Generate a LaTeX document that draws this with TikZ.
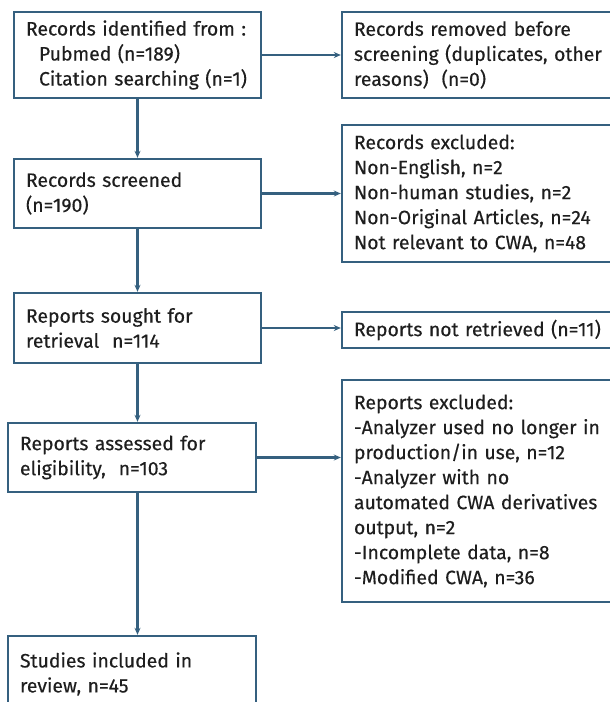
\documentclass[tikz,border=0pt]{standalone}
\usepackage{fontspec}
\setmainfont[FakeBold=0.3]{Fira Sans}
\usetikzlibrary{arrows.meta}
\definecolor{edge}{HTML}{35607F}
\definecolor{ink}{HTML}{1E1E1E}
\newcommand{\bxline}[1]{\mbox{#1}}
\begin{document}
\begin{tikzpicture}[x=1pt,y=-1pt,
  box/.style={draw=edge, line width=2.4pt, fill=white, text=ink, align=left,
    inner xsep=12pt, inner ysep=3pt, font=\fontsize{19.4}{25}\selectfont, anchor=center},
  conn/.style={draw=edge, line width=2.2pt, -{Stealth[length=7pt,width=6pt]}}]
\useasboundingbox (0,0) rectangle (610,702);
\clip (0,0) rectangle (610,702);
\fill[white] (0,0) rectangle (610,702);

\node[box, minimum width=247pt, minimum height=86pt, text width=223pt] (A) at (137.5,55)
  {\bxline{Records identified from :}\\\bxline{\hspace*{13pt}Pubmed (n=189)}\\\bxline{\hspace*{13pt}Citation searching (n=1)}};
\node[box, minimum width=272pt, minimum height=86pt, text width=248pt] (B) at (478,55)
  {\bxline{Records removed before}\\\bxline{screening (duplicates, other}\\\bxline{reasons)\ \ (n=0)}};
\node[box, minimum width=247pt, minimum height=69pt, text width=223pt] (C) at (137.5,193.5)
  {\bxline{Records screened}\\\bxline{(n=190)}};
\node[box, minimum width=272pt, minimum height=137pt, text width=248pt] (D) at (478,193.5)
  {\bxline{Records excluded:}\\\bxline{Non-English, n=2}\\\bxline{Non-human studies, n=2}\\\bxline{Non-Original Articles, n=24}\\\bxline{Not relevant to CWA, n=48}};
\node[box, minimum width=247pt, minimum height=70pt, text width=223pt] (E) at (137.5,328)
  {\bxline{Reports sought for}\\\bxline{retrieval\ \ n=114}};
\node[box, minimum width=272pt, minimum height=36pt, text width=248pt] (F) at (478,330)
  {\bxline{Reports not retrieved (n=11)}};
\node[box, minimum width=248pt, minimum height=69pt, text width=224pt] (G) at (132,457.5)
  {\bxline{Reports assessed for}\\\bxline{eligibility,\ \ n=103}};
\node[box, minimum width=272pt, minimum height=222pt, text width=248pt] (H) at (478,491)
  {\bxline{Reports excluded:}\\\bxline{-Analyzer used no longer in}\\\bxline{production/in use, n=12}\\\bxline{-Analyzer with no}\\\bxline{automated CWA derivatives}\\\bxline{output, n=2}\\\bxline{-Incomplete data, n=8}\\\bxline{-Modified CWA, n=36}};
\node[box, minimum width=248pt, minimum height=76pt, text width=224pt] (I) at (132,674)
  {\bxline{Studies included in}\\\bxline{review, n=45}};

\draw[conn] (A.east) -- (B.west);
\draw[conn] (C.east) -- (D.west);
\draw[conn] (E.east) -- (E.east -| F.west);
\draw[conn] (G.east) -- (G.east -| H.west);
\draw[conn] (A.south) -- (C.north);
\draw[conn] (C.south) -- (E.north);
\draw[conn] (E.south) -- (E.south |- G.north);
\draw[conn] (E.south |- G.south) -- (E.south |- I.north);
\end{tikzpicture}
\end{document}
